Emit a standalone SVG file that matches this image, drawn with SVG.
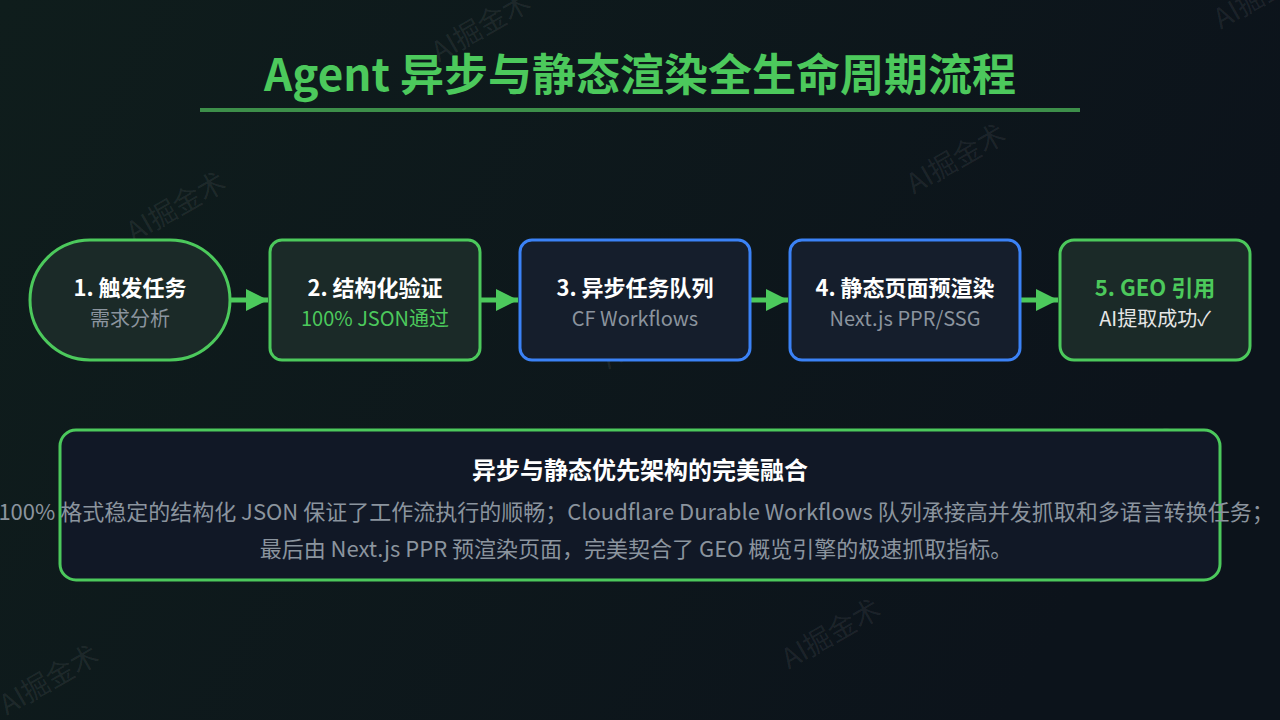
<svg xmlns="http://www.w3.org/2000/svg" width="1280" height="720" viewBox="0 0 1280 720">
  <defs>
    <linearGradient id="bg" x1="0" y1="0" x2="1" y2="0.3">
      <stop offset="0" stop-color="#0f1d1c"/>
      <stop offset="1" stop-color="#0c131b"/>
    </linearGradient>
    <marker id="arrow" viewBox="0 0 22 22" refX="22" refY="11" markerWidth="22" markerHeight="22" markerUnits="userSpaceOnUse" orient="auto">
      <path d="M0,0 L22,11 L0,22 Z" fill="#4cc95c"/>
    </marker>
    <style>
      text { font-family: "Noto Sans CJK SC", "Noto Sans", sans-serif; }
      .wm { font-size: 28px; fill: #ffffff; fill-opacity: 0.07; text-anchor: middle; dominant-baseline: central; }
      .green-node { fill: #1b2a28; stroke: #4cc95c; stroke-width: 3; }
      .blue-node { fill: #151e2c; stroke: #3b82f6; stroke-width: 3; }
      .ntitle { font-size: 22px; font-weight: 700; fill: #ffffff; text-anchor: middle; }
      .nsub { font-size: 20px; fill: #8b949e; text-anchor: middle; }
      .conn { stroke: #4cc95c; stroke-width: 5; fill: none; }
      .body { font-size: 22px; fill: #8b949e; text-anchor: middle; }
    </style>
  </defs>

  <rect x="0" y="0" width="1280" height="720" fill="url(#bg)"/>

  <g id="watermarks">
    <text class="wm" transform="translate(175,205) rotate(-30)">AI掘金术</text>
    <text class="wm" transform="translate(480,25) rotate(-30)">AI掘金术</text>
    <text class="wm" transform="translate(1262,-8) rotate(-30)">AI掘金术</text>
    <text class="wm" transform="translate(955,157) rotate(-30)">AI掘金术</text>
    <text class="wm" transform="translate(650,332) rotate(-30)">AI掘金术</text>
    <text class="wm" transform="translate(353,512) rotate(-30)">AI掘金术</text>
    <text class="wm" transform="translate(1130,460) rotate(-30)">AI掘金术</text>
    <text class="wm" transform="translate(830,632) rotate(-30)">AI掘金术</text>
    <text class="wm" transform="translate(48,678) rotate(-30)">AI掘金术</text>
  </g>

  <g id="title">
    <text x="640" y="91" text-anchor="middle" font-size="44" font-weight="700" fill="#4cc95c">Agent 异步与静态渲染全生命周期流程</text>
    <rect x="200" y="108" width="880" height="4" fill="#3d8f4a"/>
  </g>

  <g id="connectors">
    <line class="conn" x1="231" y1="300" x2="268" y2="300" marker-end="url(#arrow)"/>
    <line class="conn" x1="481" y1="300" x2="518" y2="300" marker-end="url(#arrow)"/>
    <line class="conn" x1="751" y1="300" x2="788" y2="300" marker-end="url(#arrow)"/>
    <line class="conn" x1="1021" y1="300" x2="1058" y2="300" marker-end="url(#arrow)"/>
  </g>

  <g id="node1">
    <rect class="green-node" x="30" y="240" width="200" height="120" rx="60" ry="60"/>
    <text class="ntitle" x="130" y="296">1. 触发任务</text>
    <text class="nsub" x="130" y="326">需求分析</text>
  </g>

  <g id="node2">
    <rect class="green-node" x="270" y="240" width="210" height="120" rx="12" ry="12"/>
    <text class="ntitle" x="375" y="296">2. 结构化验证</text>
    <text class="nsub" x="375" y="326" style="fill:#4cc95c">100% JSON通过</text>
  </g>

  <g id="node3">
    <rect class="blue-node" x="520" y="240" width="230" height="120" rx="12" ry="12"/>
    <text class="ntitle" x="635" y="296">3. 异步任务队列</text>
    <text class="nsub" x="635" y="326">CF Workflows</text>
  </g>

  <g id="node4">
    <rect class="blue-node" x="790" y="240" width="230" height="120" rx="12" ry="12"/>
    <text class="ntitle" x="905" y="296">4. 静态页面预渲染</text>
    <text class="nsub" x="905" y="326">Next.js PPR/SSG</text>
  </g>

  <g id="node5">
    <rect class="green-node" x="1060" y="240" width="190" height="120" rx="14" ry="14"/>
    <text class="ntitle" x="1155" y="296" style="fill:#4cc95c">5. GEO 引用</text>
    <text class="nsub" x="1155" y="326" style="fill:#e6e6e6">AI提取成功✓</text>
  </g>

  <g id="summary">
    <rect x="60" y="430" width="1160" height="150" rx="16" ry="16" fill="#111826" stroke="#4cc95c" stroke-width="3"/>
    <text x="640" y="479" text-anchor="middle" font-size="24" font-weight="700" fill="#ffffff">异步与静态优先架构的完美融合</text>
    <text class="body" x="636" y="520">100% 格式稳定的结构化 JSON 保证了工作流执行的顺畅；Cloudflare Durable Workflows 队列承接高并发抓取和多语言转换任务；</text>
    <text class="body" x="636" y="557">最后由 Next.js PPR 预渲染页面，完美契合了 GEO 概览引擎的极速抓取指标。</text>
  </g>
</svg>
